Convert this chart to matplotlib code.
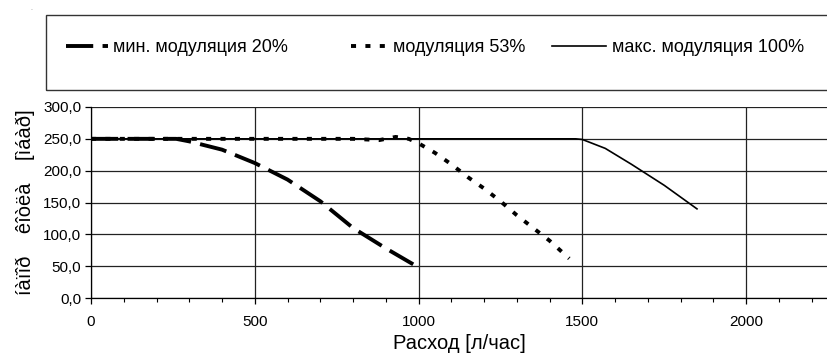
import matplotlib
matplotlib.use("Agg")
import matplotlib.pyplot as plt
from matplotlib.patches import Rectangle
from matplotlib.ticker import FuncFormatter, MultipleLocator

plt.rcParams["font.family"] = ["Liberation Sans", "DejaVu Sans"]

# flow [l/h] vs boiler head [mbar]
x_min = [0, 100, 200, 260, 300, 400, 500, 600, 700, 800, 900, 1000]
y_min = [250, 250, 250, 250, 246, 233, 212, 186, 152, 110, 78, 48]

x_mid = [0, 200, 400, 600, 800, 880, 930, 970, 1000, 1050, 1100, 1150, 1200, 1250, 1300, 1350, 1400, 1460]
y_mid = [250, 250, 250, 250, 250, 248, 253, 250, 243, 228, 210, 190, 172, 152, 130, 110, 90, 62]

x_max = [0, 500, 1000, 1480, 1500, 1570, 1650, 1750, 1850]
y_max = [250, 250, 250, 250, 249, 235, 210, 177, 140]

labels = ["мин. модуляция 20%", "модуляция 53%", "макс. модуляция 100%"]
keycolor = "black"

fig = plt.figure(figsize=(8.28, 3.6), dpi=100)
ax = fig.add_axes([91/828, 1 - 298/360, 1 - 91/828, (298 - 107)/360])

l1, = ax.plot(x_min, y_min, color=keycolor, lw=2.8, dashes=(7.0, 2.4), dash_capstyle="butt")
l2, = ax.plot(x_mid, y_mid, color=keycolor, lw=2.8, dashes=(1.3, 2.4), dash_capstyle="butt")
l3, = ax.plot(x_max, y_max, color=keycolor, lw=1.2)

ax.set_xlim(0, 2250)
ax.set_ylim(0, 300)
ax.xaxis.set_major_locator(MultipleLocator(500))
ax.xaxis.set_minor_locator(MultipleLocator(100))
ax.yaxis.set_major_locator(MultipleLocator(50))
ax.yaxis.set_major_formatter(FuncFormatter(lambda v, p: f"{v:.1f}".replace(".", ",")))
ax.grid(True, which="major", color="#222222", lw=0.9)
ax.set_axisbelow(True)
for s in ["top", "right"]:
    ax.spines[s].set_visible(False)
ax.spines["left"].set_linewidth(0.9)
ax.spines["bottom"].set_linewidth(0.9)
ax.tick_params(axis="both", which="major", direction="out", length=4, width=0.9, labelsize=11)
ax.tick_params(axis="x", which="minor", direction="out", length=3, width=0.8)
ax.tick_params(axis="x", pad=8)
ax.tick_params(axis="y", pad=3)

ax.set_xlabel("Расход [л/час]", fontsize=14.5, labelpad=4)
ax.set_ylabel("íàïîð    êîòëà    [ìáàð]", fontsize=14.5, labelpad=6)

# legend frame
fig.patches.append(Rectangle((46/828, 1 - 90/360), 1.0, 75/360, transform=fig.transFigure,
                             fill=False, edgecolor="#333333", lw=1.0))
positions = [66/828, 351/828, 552/828]
hlens = [2.3, 2.0, 3.0]
for h, lab, px, hl in zip([l1, l2, l3], labels, positions, hlens):
    fig.legend([h], [lab], loc="center left", bbox_to_anchor=(px, 1 - 48/360),
               frameon=False, fontsize=13, handlelength=hl, handletextpad=0.3,
               borderpad=0, borderaxespad=0)

fig.text(30/828, 1 - 10/360, ".", fontsize=5, color="#888888")

fig.savefig("out.png", dpi=100)
